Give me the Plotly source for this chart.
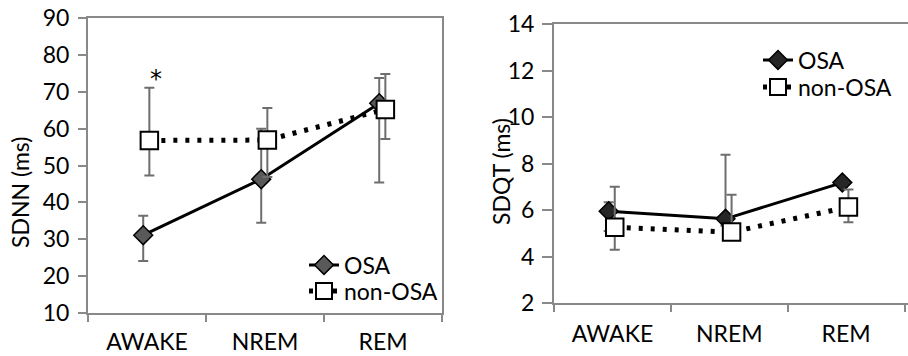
import numpy as np
import plotly.graph_objects as go

# ---------------- data ----------------
stages = ["AWAKE", "NREM", "REM"]
series_names = ["OSA", "non-OSA"]

sdnn_osa = [31.1, 46.3, 66.9]
sdnn_osa_plus = [5.3, 13.7, 6.8]
sdnn_osa_minus = [7.0, 11.8, 21.5]
sdnn_non = [56.8, 56.9, 65.2]
sdnn_non_plus = [14.3, 8.7, 9.6]
sdnn_non_minus = [9.5, 10.0, 8.0]

sdqt_osa = [5.95, 5.62, 7.18]
sdqt_osa_plus = [0.38, 2.76, 0.2]
sdqt_osa_minus = [0.85, 0.3, 0.2]
sdqt_non = [5.26, 5.05, 6.13]
sdqt_non_plus = [1.74, 1.61, 0.75]
sdqt_non_minus = [0.97, 0.3, 0.66]

left_yticks = [10, 20, 30, 40, 50, 60, 70, 80, 90]
right_yticks = [2, 4, 6, 8, 10, 12, 14]

# ---------------- style ----------------
FONT = "Lato"
FS = 23
AX = "#898989"
ERR = "#6e6e6e"
W, H = 908, 356
xi = np.arange(len(stages))
off_osa, off_non = -0.032, 0.02

fig = go.Figure()

def add_pair(xa, ya, osa, op, om, non, npl, nm, osa_fill, lg1, lg2, msz_d, msz_s):
    fig.add_trace(go.Scatter(
        x=xi + off_osa, y=osa, name=series_names[0], mode="lines+markers",
        xaxis=xa, yaxis=ya, legend=lg1,
        line=dict(color="black", width=3),
        marker=dict(symbol="diamond", size=msz_d, color=osa_fill,
                    line=dict(color="black", width=1.5)),
        error_y=dict(type="data", symmetric=False, array=op, arrayminus=om,
                     color=ERR, thickness=2, width=5)))
    fig.add_trace(go.Scatter(
        x=xi + off_non, y=non, name=series_names[1], mode="lines+markers",
        xaxis=xa, yaxis=ya, legend=lg2,
        line=dict(color="black", width=5, dash="4px,8px"),
        marker=dict(symbol="square", size=msz_s, color="white",
                    line=dict(color="black", width=2)),
        error_y=dict(type="data", symmetric=False, array=npl, arrayminus=nm,
                     color=ERR, thickness=2, width=5)))

add_pair("x", "y", sdnn_osa, sdnn_osa_plus, sdnn_osa_minus,
         sdnn_non, sdnn_non_plus, sdnn_non_minus, "#595959",
         "legend", "legend2", 14.5, 17.5)
add_pair("x2", "y2", sdqt_osa, sdqt_osa_plus, sdqt_osa_minus,
         sdqt_non, sdqt_non_plus, sdqt_non_minus, "#262626",
         "legend3", "legend4", 14.5, 17.5)

tickfont = dict(family=FONT, size=FS, color="black")

def xaxis(domain, rng, standoff):
    return dict(domain=domain, range=rng, showgrid=False, zeroline=False,
                showline=True, linecolor=AX, linewidth=2, mirror=True,
                automargin=False,
                tickmode="array", tickvals=list(xi), ticktext=stages,
                ticks="", tickfont=tickfont, ticklabelstandoff=standoff,
                minor=dict(tickmode="array", tickvals=[-0.5, 0.5, 1.5, 2.5],
                           ticks="outside", ticklen=7, tickwidth=2,
                           tickcolor=AX, showgrid=False))

def yaxis(domain, rng, vals, anchor, tl, standoff):
    return dict(domain=domain, range=rng, anchor=anchor, showgrid=False,
                zeroline=False, showline=True, linecolor=AX, linewidth=2,
                mirror=True, automargin=False, tickmode="array", tickvals=vals,
                ticks="outside", ticklen=tl, tickwidth=2, tickcolor=AX,
                tickfont=tickfont, ticklabelstandoff=standoff)

def legend_at(x_text, y_center):
    # x_text: left edge of the text; y_center: vertical center (pixels)
    return dict(x=(x_text - 44) / W, y=1 - y_center / H, xanchor="left",
                yanchor="middle", bgcolor="rgba(0,0,0,0)",
                font=dict(family=FONT, size=FS), borderwidth=0)

fig.update_layout(
    width=W, height=H, margin=dict(l=0, r=0, t=0, b=0, autoexpand=False),
    paper_bgcolor="white", plot_bgcolor="white",
    font=dict(family=FONT, size=FS, color="black"),
    xaxis=xaxis([88 / W, 442 / W], [-0.5, 2.5], 7),
    yaxis=yaxis([1 - 313 / H, 1 - 18 / H], [10, 90], left_yticks, "x", 8, 4),
    xaxis2=dict(xaxis([554 / W, 1.0], [-0.5, 2.53], 9), anchor="y2"),
    yaxis2=yaxis([1 - 303 / H, 1 - 24 / H], [2, 14], right_yticks, "x2", 10, 3),
    legend=legend_at(348, 265),
    legend2=legend_at(348, 291),
    legend3=legend_at(802, 60),
    legend4=legend_at(802, 87),
    showlegend=True,
)

fig.add_annotation(x=0.08, y=73.5, xref="x", yref="y", text="*", showarrow=False,
                   font=dict(family="DejaVu Sans", size=24, color="black"))
fig.add_annotation(x=20 / W, y=1 - 193 / H, xref="paper", yref="paper",
                   xanchor="center", yanchor="middle",
                   text="SDNN (ms)", textangle=-90, showarrow=False,
                   font=dict(family=FONT, size=FS, color="black"))
fig.add_annotation(x=501 / W, y=1 - 172 / H, xref="paper", yref="paper",
                   xanchor="center", yanchor="middle",
                   text="SDQT (ms)", textangle=-90, showarrow=False,
                   font=dict(family=FONT, size=FS, color="black"))

fig.write_html("out.html")
